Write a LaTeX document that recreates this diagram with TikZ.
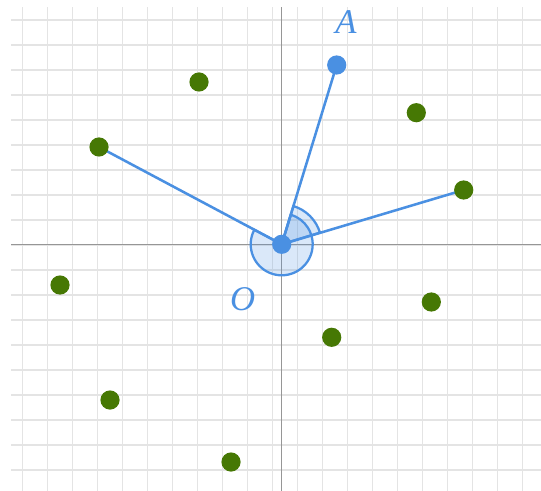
\documentclass[tikz,border=0pt]{standalone}
\usepackage{fontspec}
\setmainfont{Liberation Serif}
\begin{document}
\begin{tikzpicture}[x=0.75pt,y=0.75pt,
  gridline/.style={draw={rgb,255:red,228;green,228;blue,228},line width=0.8pt},
  axisline/.style={draw={rgb,255:red,150;green,150;blue,150},line width=1pt},
  seg/.style={draw=myblue,line width=1.9pt},
  sector/.style={fill=myblue,fill opacity=0.2,draw=myblue,draw opacity=1,line width=1.7pt},
  gdot/.style={circle,fill=mygreen,inner sep=0pt,minimum size=14.4pt},
  bdot/.style={circle,fill=myblue,inner sep=0pt,minimum size=14.4pt},
  lbl/.style={text=myblue,font=\fontsize{26}{26}\selectfont\itshape,inner sep=0pt}]
\definecolor{myblue}{RGB}{74,144,226}
\definecolor{mygreen}{RGB}{70,120,4}
\useasboundingbox (0,0) rectangle (541,-491);
\fill[white] (0,0) rectangle (541,-491);
% grid
\foreach \k in {0,...,20} \draw[gridline] (22.7+25*\k,-7.5) -- (22.7+25*\k,-491);
\foreach \k in {0,...,18} \draw[gridline] (11,-20-25*\k) -- (541,-20-25*\k);
% axes
\draw[axisline] (11,-244.3) -- (541,-244.3);
\draw[axisline] (281.7,-7.5) -- (281.7,-491);
% positions
\coordinate (O) at (281.7,-244.3);
\coordinate (A) at (336.7,-65);
\coordinate (L) at (99,-147);
\coordinate (R) at (463.7,-190);
% angle sectors
\draw[sector] (O) -- ++(151.96:31) arc[start angle=151.96,end angle=432.95,radius=31] -- cycle;
\draw[sector] (O) -- ++(16.96:40) arc[start angle=16.96,end angle=72.95,radius=40] -- cycle;
% segments
\draw[seg] (O) -- (A);
\draw[seg] (O) -- (L);
\draw[seg] (O) -- (R);
% points
\node[gdot] (g1) at (199,-82) {};
\node[gdot] (gL) at (L) {};
\node[gdot] (g3) at (416.3,-112.7) {};
\node[gdot] (gR) at (R) {};
\node[gdot] (g5) at (60,-285) {};
\node[gdot] (g6) at (431.3,-302) {};
\node[gdot] (g7) at (331.7,-337.3) {};
\node[gdot] (g8) at (110,-400) {};
\node[gdot] (g9) at (231,-462) {};
\node[bdot] (bA) at (A) {};
\node[bdot] (bO) at (O) {};
% labels
\node[lbl] (labA) at (346,-22) {A};
\node[lbl] (labO) at (242.7,-299.3) {O};
\end{tikzpicture}
\end{document}
